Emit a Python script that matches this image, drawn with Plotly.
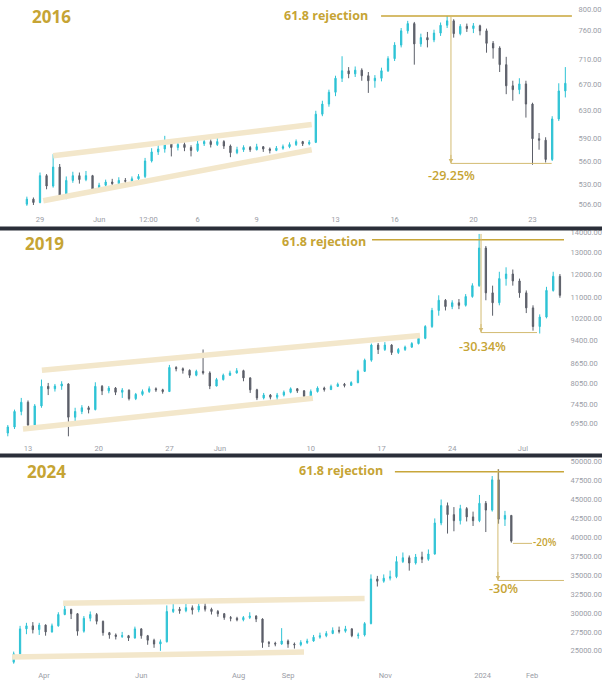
import numpy as np
import pandas as pd
import plotly.graph_objects as go

# ======================= DATA =======================
# ---- 2016 panel (8-hour candles) ----
p16_start = "2016-05-28 08:00"
p16_step_hours = 8
p16_first_open = 506
p16_close = [512, 508, 541, 528, 552, 514, 535, 541, 536, 541,
             524, 529, 533, 531, 535, 534, 537, 540, 560, 572,
             576, 586, 578, 582, 578, 574, 583, 586, 582, 586,
             580, 571, 575, 578, 575, 579, 576, 574, 577, 579,
             582, 586, 583, 585, 625, 640, 658, 680, 692, 687,
             693, 684, 676, 680, 692, 712, 735, 760, 773, 737,
             748, 744, 756, 770, 778, 755, 768, 764, 769, 760,
             738, 730, 702, 668, 662, 671, 640, 590, 588, 562,
             618, 660, 672]
p16_high = [515, 514, 545, 543, 569, 556, 540, 546, 545, 547,
            542, 532, 536, 537, 539, 538, 540, 543, 564, 577,
            582, 594, 588, 587, 585, 581, 587, 590, 589, 591,
            588, 582, 579, 581, 580, 583, 580, 578, 580, 582,
            585, 589, 587, 588, 630, 645, 662, 684, 716, 698,
            699, 696, 690, 685, 697, 716, 740, 765, 778, 776,
            755, 758, 762, 775, 787, 781, 772, 773, 774, 771,
            764, 742, 733, 715, 676, 680, 676, 642, 598, 592,
            622, 672, 698]
p16_low = [504, 505, 507, 524, 526, 511, 512, 532, 531, 534,
           520, 521, 527, 528, 530, 531, 532, 534, 538, 558,
           568, 571, 566, 574, 573, 566, 572, 580, 578, 580,
           576, 565, 569, 572, 572, 574, 572, 570, 573, 575,
           577, 580, 580, 581, 584, 622, 636, 652, 674, 680,
           682, 676, 657, 665, 675, 690, 708, 731, 755, 702,
           732, 731, 740, 751, 765, 748, 752, 758, 756, 752,
           722, 712, 690, 655, 645, 655, 620, 555, 575, 558,
           560, 615, 650]
p16_tick_dates = ["2016-05-29", "2016-06-01", "2016-06-03 12:00", "2016-06-06", "2016-06-09",
                  "2016-06-13", "2016-06-16", "2016-06-20", "2016-06-23"]
p16_tick_text = ["29", "Jun", "12:00", "6", "9", "13", "16", "20", "23"]
p16_price_ticks = [800, 760, 710, 670, 630, 590, 560, 530, 506]
p16_band_upper = (["2016-05-29 16:00", "2016-06-11 19:00"], [567, 610])
p16_band_lower = (["2016-05-29 04:00", "2016-06-11 19:00"], [510, 575])
p16_reject = (["2016-06-15 07:30", "2016-06-25 00:00"], 787)
p16_drop = dict(x="2016-06-18 20:40", x_end="2016-06-23 23:20", top=787, pct=29.25)

# ---- 2019 panel (16-hour candles) ----
p19_start = "2019-05-11 00:00"
p19_step_hours = 16
p19_first_open = 6700
p19_close = [6850, 7250, 7500, 6900, 7400, 7950, 7880, 7960, 8020, 7100,
             7250, 7350, 7300, 7950, 7820, 7900, 7780, 7840, 7600, 7720,
             7800, 7880, 7850, 7800, 8520, 8480, 8430, 8280, 8400, 8350,
             7960, 8150, 8280, 8350, 8420, 8200, 7850, 7620, 7700, 7640,
             7700, 7780, 7880, 7820, 7660, 7800, 7900, 7860, 7950, 8010,
             7980, 8060, 8400, 8750, 9250, 9100, 9250, 9000, 9100, 9180,
             9300, 9480, 9900, 10500, 10900, 10650, 10800, 10700, 11050, 11500,
             13200, 11200, 10800, 11800, 12000, 11700, 11200, 10600, 9900, 10250,
             11300, 11900, 11100]
p19_high = [6900, 7300, 7620, 7550, 7450, 8150, 8050, 8020, 8100, 8040,
            7350, 7420, 7400, 8070, 7990, 7960, 7930, 7900, 7860, 7760,
            7860, 7950, 7920, 7880, 8600, 8560, 8520, 8460, 8450, 9100,
            8400, 8200, 8330, 8420, 8500, 8450, 8220, 7880, 7760, 7730,
            7760, 7830, 7920, 7900, 7840, 7860, 7950, 7940, 8000, 8060,
            8050, 8100, 8450, 8800, 9300, 9320, 9350, 9280, 9150, 9230,
            9350, 9530, 9950, 10600, 11100, 10950, 10900, 10950, 11150, 11600,
            13900, 13300, 11500, 12100, 12300, 12200, 11800, 11300, 10700, 10350,
            11450, 12100, 12000]
p19_low = [6620, 6800, 7150, 6780, 6850, 7350, 7700, 7800, 7850, 6620,
           7000, 7180, 7200, 7280, 7700, 7750, 7700, 7620, 7550, 7560,
           7680, 7760, 7790, 7740, 7790, 8400, 8330, 8200, 8250, 8300,
           7870, 7950, 8120, 8260, 8330, 8100, 7760, 7560, 7580, 7580,
           7560, 7660, 7750, 7760, 7570, 7600, 7770, 7800, 7840, 7930,
           7920, 7960, 8040, 8380, 8700, 8950, 9050, 8920, 8950, 9050,
           9150, 9270, 9450, 9850, 10300, 10500, 10550, 10550, 10650, 11000,
           11450, 10900, 10300, 10700, 11500, 11500, 11000, 10400, 9750, 9650,
           10200, 11250, 11000]
p19_tick_dates = ["2019-05-13", "2019-05-20", "2019-05-27", "2019-06-01", "2019-06-10",
                  "2019-06-17", "2019-06-24", "2019-07-01"]
p19_tick_text = ["13", "20", "27", "Jun", "10", "17", "24", "Jul"]
p19_price_ticks = [14000, 13000, 12000, 11000, 10200, 9400, 8650, 8050, 7450, 6950]
p19_band_upper = (["2019-05-14 09:00", "2019-06-20 19:30"], [8430, 9580])
p19_band_lower = (["2019-05-12 12:00", "2019-06-10 05:00"], [6800, 7610])
p19_reject = (["2019-06-16 01:30", "2019-07-05 01:40"], 13612)
p19_drop = dict(x="2019-06-26 20:30", x_end="2019-07-02 09:30", top=13900, pct=30.34)

# ---- 2024 panel (4-day candles) ----
p24_start = "2023-03-13"
p24_step_hours = 96
p24_first_open = 23500
p24_close = [24600, 27900, 28300, 27800, 28400, 27500, 28300, 29800, 30500, 29900,
             27600, 29300, 29800, 28900, 27400, 27100, 26900, 27000, 26700, 27900,
             27000, 26400, 25900, 26200, 30200, 30500, 30300, 30700, 30400, 30900,
             30500, 30200, 29900, 29400, 29300, 29100, 29400, 29600, 29200, 26100,
             26000, 25900, 26300, 25900, 25800, 26100, 26300, 26800, 27000, 27300,
             27700, 27600, 27900, 27000, 27100, 28600, 34500, 34200, 34600, 34800,
             36800, 37300, 36600, 37400, 37100, 37800, 41900, 44200, 43000, 42200,
             43800, 42700, 42200, 44500, 43600, 47600, 42400, 42900, 39500]
p24_high = [24900, 28300, 28700, 28800, 28700, 28500, 28600, 30100, 31300, 30500,
            30000, 29600, 30200, 30000, 29000, 27500, 27300, 27500, 27100, 28200,
            28000, 27100, 26600, 26500, 31000, 31200, 30800, 31200, 31000, 31300,
            31800, 30700, 30400, 30000, 29600, 29500, 29600, 30100, 29700, 29300,
            26300, 26200, 28000, 26500, 26100, 26400, 26600, 27100, 27400, 27600,
            28100, 28200, 28300, 28000, 27400, 28800, 35100, 34900, 35100, 35600,
            37500, 38000, 37600, 37800, 38100, 38400, 42500, 45000, 44600, 44000,
            44300, 44000, 43400, 45600, 44800, 48100, 49000, 43500, 42600]
p24_low = [23300, 24500, 27200, 27300, 27100, 27000, 27400, 28200, 29700, 29200,
           27000, 27400, 28900, 28500, 27000, 26600, 26500, 26700, 26300, 26600,
           26600, 25800, 25400, 25000, 26100, 30000, 29900, 30100, 29800, 30100,
           30200, 29800, 29500, 29100, 28900, 28900, 28900, 29200, 28800, 25400,
           25500, 25600, 25800, 25400, 25300, 25600, 25900, 26200, 26600, 26800,
           27200, 27300, 27400, 26800, 26600, 26900, 28500, 33500, 34000, 34300,
           34600, 36600, 35600, 36400, 36600, 36900, 37700, 41600, 40500, 40800,
           41700, 42100, 41500, 42000, 40700, 43400, 41800, 41500, 39300]
p24_tick_dates = ["2023-04-01", "2023-06-01", "2023-08-01", "2023-09-01", "2023-11-01",
                  "2024-01-01", "2024-02-01"]
p24_tick_text = ["Apr", "Jun", "Aug", "Sep", "Nov", "2024", "Feb"]
p24_price_ticks = [50000, 47500, 45000, 42500, 40000, 37500, 35000, 32500, 30000, 27500, 25000]
p24_band_upper = (["2023-04-13", "2023-10-19"], [31280, 31930])
p24_band_lower = (["2023-03-12", "2023-09-11"], [24170, 24830])
p24_reject = (["2023-11-07", "2024-02-21"], 48684)
p24_drop = dict(x="2024-01-10 14:00", x_end="2024-02-21", top=49000, pct=30)
p24_drop2 = dict(x="2024-01-20", x_end="2024-02-01", top=49000, pct=20)

# ======================= STYLE / LAYOUT =======================
W, H = 602, 680
GOLD = "#c6a434"
GOLD_LINE = "#c8a63a"
MEASURE = "#d3bb72"
BAND = "#f3e7cb"
UP = "#2ec3d5"
DOWN = "#5c5f69"
TICKC = "#9a9da6"
TICKFONT = dict(family="Roboto, Arial, sans-serif", size=7.5, color=TICKC)


def paper_y(px):
    return 1 - px / H


panels = [
    dict(name="2016", start=p16_start, step=p16_step_hours, o0=p16_first_open,
         c=p16_close, h=p16_high, l=p16_low,
         tdates=p16_tick_dates, ttext=p16_tick_text, pticks=p16_price_ticks,
         bu=p16_band_upper, bl=p16_band_lower, rej=p16_reject, drops=[p16_drop],
         log=True, top=2, bottom=207, right=573,
         yfun=lambda px: 800 * np.exp(-(px - 6) / 428),
         xanchor="2016-05-29", x0px=40, ppd=19.7,
         label_xy=(51, 14), rej_text_xy=(326, 13),
         pct_text=[("-29.25%", "2016-06-18 21:00", 541.6, 12.5)]),
    dict(name="2019", start=p19_start, step=p19_step_hours, o0=p19_first_open,
         c=p19_close, h=p19_high, l=p19_low,
         tdates=p19_tick_dates, ttext=p19_tick_text, pticks=p19_price_ticks,
         bu=p19_band_upper, bl=p19_band_lower, rej=p19_reject, drops=[p19_drop],
         log=True, top=229, bottom=437, right=565,
         yfun=lambda px: 14000 * np.exp(-(px - 230) / 274),
         xanchor="2019-05-13", x0px=28, ppd=10.1,
         label_xy=(44, 242), rej_text_xy=(324, 240),
         pct_text=[("-30.34%", "2019-06-27 00:00", 9210, 12.5)]),
    dict(name="2024", start=p24_start, step=p24_step_hours, o0=p24_first_open,
         c=p24_close, h=p24_high, l=p24_low,
         tdates=p24_tick_dates, ttext=p24_tick_text, pticks=p24_price_ticks,
         bu=p24_band_upper, bl=p24_band_lower, rej=p24_reject, drops=[p24_drop],
         log=False, top=458, bottom=665, right=565,
         yfun=lambda px: 50000 - (px - 460.7) / 0.0076,
         xanchor="2023-04-01", x0px=44, ppd=1.595,
         label_xy=(46, 471), rej_text_xy=(341, 470),
         pct_text=[("-30%", "2024-01-14", 33290, 12.5), ("-20%", "2024-02-09", 39340, 10)]),
]

fig = go.Figure()
annotations = []
layout_axes = {}

for k, P in enumerate(panels, start=1):
    xa = "x" if k == 1 else f"x{k}"
    ya = "y" if k == 1 else f"y{k}"
    xkey = "xaxis" if k == 1 else f"xaxis{k}"
    ykey = "yaxis" if k == 1 else f"yaxis{k}"
    yv = (lambda v: np.log10(v)) if P["log"] else (lambda v: v)

    times = pd.date_range(P["start"], periods=len(P["c"]), freq=pd.Timedelta(hours=P["step"]))
    opens = [P["o0"]] + P["c"][:-1]

    # channel bands
    for bx, byy in (P["bu"], P["bl"]):
        fig.add_trace(go.Scatter(x=bx, y=byy, mode="lines", xaxis=xa, yaxis=ya,
                                 line=dict(color=BAND, width=5.5), hoverinfo="skip"))

    # candles
    fig.add_trace(go.Candlestick(
        x=times, open=opens, high=P["h"], low=P["l"], close=P["c"],
        xaxis=xa, yaxis=ya, whiskerwidth=0,
        increasing=dict(line=dict(color=UP, width=1), fillcolor=UP),
        decreasing=dict(line=dict(color=DOWN, width=1), fillcolor=DOWN),
    ))

    # 61.8 rejection line
    rx, rlev = P["rej"]
    fig.add_trace(go.Scatter(x=rx, y=[rlev, rlev], mode="lines", xaxis=xa, yaxis=ya,
                             line=dict(color=GOLD_LINE, width=1.5), hoverinfo="skip"))

    # drawdown measures
    for d in P["drops"]:
        bottom = d["top"] * (1 - d["pct"] / 100)
        fig.add_trace(go.Scatter(x=[d["x"], d["x"], d["x_end"]], y=[d["top"], bottom, bottom],
                                 mode="lines", xaxis=xa, yaxis=ya,
                                 line=dict(color=MEASURE, width=1), hoverinfo="skip"))
        annotations.append(dict(x=d["x"], y=yv(bottom), xref=xa, yref=ya, text="",
                                showarrow=True, arrowhead=2, arrowsize=0.9, arrowwidth=1,
                                arrowcolor=MEASURE, ax=0, ay=-10))
    if k == 3:
        d = p24_drop2
        lev = d["top"] * (1 - d["pct"] / 100)
        fig.add_trace(go.Scatter(x=[d["x"], d["x_end"]], y=[lev, lev], mode="lines",
                                 xaxis=xa, yaxis=ya, line=dict(color=MEASURE, width=1),
                                 hoverinfo="skip"))

    for txt, tx, tyv, fs in P["pct_text"]:
        annotations.append(dict(x=tx, y=yv(tyv), xref=xa, yref=ya, text=txt, showarrow=False,
                                font=dict(family="Open Sans", size=fs, color=GOLD, weight=600),
                                xanchor="center", yanchor="middle"))

    # titles
    lx, ly = P["label_xy"]
    annotations.append(dict(x=lx / W, y=paper_y(ly), xref="paper", yref="paper", text=P["name"],
                            showarrow=False, xanchor="center", yanchor="middle",
                            font=dict(family="Open Sans", size=17, color=GOLD, weight="bold")))
    rtx, rty = P["rej_text_xy"]
    annotations.append(dict(x=rtx / W, y=paper_y(rty), xref="paper", yref="paper",
                            text="61.8 rejection", showarrow=False, xanchor="center",
                            yanchor="middle",
                            font=dict(family="Open Sans", size=12.5, color=GOLD, weight="bold")))

    # axes
    t0 = pd.Timestamp(P["xanchor"])
    xr = [t0 + pd.Timedelta(days=(0 - P["x0px"]) / P["ppd"]),
          t0 + pd.Timedelta(days=(P["right"] - P["x0px"]) / P["ppd"])]
    layout_axes[xkey] = dict(
        domain=[0, P["right"] / W], anchor=ya, type="date",
        range=[xr[0].isoformat(), xr[1].isoformat()],
        tickmode="array", tickvals=P["tdates"], ticktext=P["ttext"],
        showgrid=False, zeroline=False, showline=False,
        ticks="outside", ticklen=3, tickcolor="rgba(0,0,0,0)", tickfont=TICKFONT,
        rangeslider=dict(visible=False), fixedrange=True)
    pmin, pmax = P["yfun"](P["bottom"]), P["yfun"](P["top"])
    layout_axes[ykey] = dict(
        domain=[paper_y(P["bottom"]), paper_y(P["top"])], anchor=xa, side="right",
        type="log" if P["log"] else "linear",
        range=[yv(pmin), yv(pmax)],
        tickmode="array", tickvals=P["pticks"], ticktext=[f"{v:.2f}" for v in P["pticks"]],
        showgrid=False, zeroline=False, showline=False,
        ticks="outside", ticklen=3, tickcolor="rgba(0,0,0,0)", tickfont=TICKFONT,
        fixedrange=True)

shapes = []
for y0, y1 in [(224.5, 228.5), (452.5, 456.5)]:
    shapes.append(dict(type="rect", xref="paper", yref="paper", x0=0, x1=1,
                       y0=paper_y(y1), y1=paper_y(y0), fillcolor="#2a2e39",
                       line=dict(width=0), layer="above"))

fig.update_layout(
    width=W, height=H, margin=dict(l=0, r=0, t=0, b=0),
    paper_bgcolor="white", plot_bgcolor="white", showlegend=False,
    boxgap=0.72, annotations=annotations, shapes=shapes, **layout_axes)

fig.write_html("out.html", config={"displayModeBar": False})
